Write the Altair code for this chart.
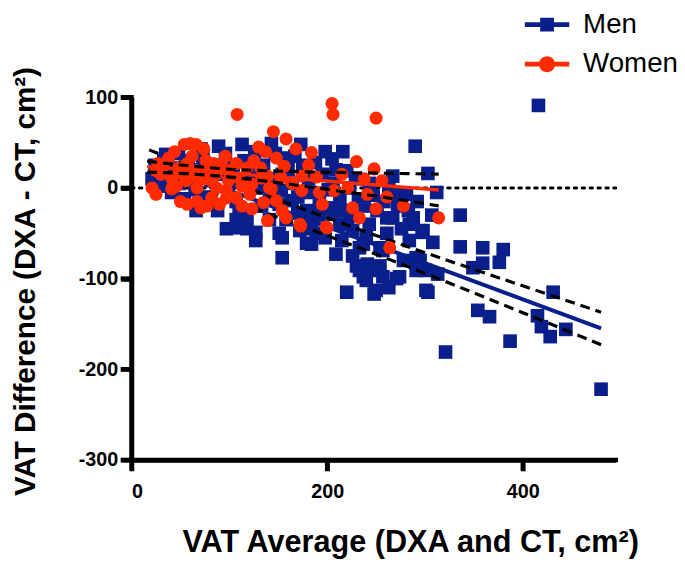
import altair as alt
import pandas as pd

# ---------------- data ----------------
men_x = [480, 416, 444, 428, 419, 415, 387, 354, 366, 431, 349, 359, 376, 336, 359, 380, 336, 321,
         297, 284, 301, 295, 303, 220, 248, 233, 240, 257, 271, 254, 241, 230, 209, 184, 215, 237, 226, 257, 284, 291, 267, 261, 243, 213, 206, 182, 189, 172,
         290, 216, 205, 173, 267, 303, 268, 281, 220, 223, 213, 205, 164, 179, 184, 288, 298, 261, 240, 254, 233, 250, 237, 250, 301, 154, 274, 291,
         97, 110, 127, 127, 154, 179, 66, 82, 110, 141, 151, 48, 71, 89, 113, 143, 156, 35, 154, 153, 151,
         21, 24, 30, 33, 38, 41, 46, 49, 54, 58, 62, 65, 70, 73, 76, 81, 84, 88, 92, 96, 99, 104, 107, 110, 115, 118, 122, 126, 130, 133, 135, 140, 145, 147,
         158, 160, 164, 167, 170, 175, 181, 183, 188, 192, 195, 198, 201, 206, 209, 215, 221, 224, 229, 232, 238, 243, 247, 251, 258, 263, 272, 276, 283, 292, 307, 312,
         308, 313, 278, 263, 226, 198, 192, 181, 170, 141, 118, 107]
men_y = [-222, 91, -156, -164, -153, -141, -169, -135, -142, -115, -88, -83, -82, -65, -66, -68, -30, -181,
         -49, -40, -91, -80, -115, -115, -117, -91, -102, -98, -100, -86, -84, -86, -73, -62, -58, -62, -47, -69, -58, -77, -33, -50, -40, -40, -29, -29, -50, -47,
         46, 40, 32, 48, 13, 16, -7, -7, 19, 0, -11, -22, -14, -25, -36, -33, -47, -33, -55, -66, -66, -91, -98, -113, -113, -77, -98, -91,
         -45, -44, -49, -58, -55, -61, -25, -18, -22, -3, -18, 38, 43, 46, 48, 49, 33, 37, 15, -3, -50,
         10, 25, 2, 30, 15, -5, 22, 5, -12, 30, 12, -2, 20, 35, -10, 8, 25, -25, 15, 38, -5, 25, -15, 8, 30, -30, 15, 40, 0, -20, 25, 10, -10, 38,
         -35, 20, 5, 35, -10, 25, 10, -5, 28, -15, 15, 40, -2, 5, 20, -25, -40, -30, 10, -12, -20, 5, -8, -25, -15, 0, -20, -45, -25, -15, -30, -5,
         -60, -95, -80, -110, -75, -55, -30, -45, -28, -35, -45, -35]

women_x = [108, 145, 158, 137, 54, 60, 74, 25, 21, 25, 41, 57, 71, 77, 97, 123, 135, 139, 158, 156, 82,
           195, 226, 233, 250, 200, 173, 264, 314,
           205, 206, 250, 168, 184, 230, 248, 256, 174, 189, 207, 174, 241, 172, 199, 154,
           38, 48, 57, 66, 76, 84, 87, 74, 67, 87, 99, 107, 99, 110, 118, 125, 132, 133, 143, 139, 148,
           30, 27, 41, 46, 56, 51, 64, 76, 92, 113, 97, 123, 107, 82, 141, 148, 121, 153, 66,
           44, 33, 62, 96, 130, 67, 50, 90, 113, 164, 181, 215, 192, 221, 238, 261, 278]
women_y = [81, 62, 54, 40, 48, 49, 43, 19, 0, -7, -1, -18, -22, -20, -11, -23, -16, -36, -33, 24, 8,
           -18, -22, -33, -23, -44, -42, -66, -33,
           93, 81, 77, 43, 39, 29, 21, 8, 13, 12, -3, -3, -7, -40, -43, -25,
           33, 22, 27, 19, 30, 27, 15, 10, 0, 0, 19, 27, 8, 11, 22, 30, 22, 11, -1, 13, 33,
           15, 27, 11, 2, 8, 16, 13, 19, 26, 2, -3, 4, -11, -11, 0, -14, -7, 11, 48,
           40, 25, 35, 35, 45, -15, -15, -18, -20, 5, 25, 15, -5, 0, 10, -10, -20]

# fitted lines and 95% bands
men_fit_x = [18, 480]
men_fit_y = [30, -155]
men_band_x = [18, 60, 120, 175, 240, 320, 400, 480]
men_band_upper = [42, 24, -0.8, -23, -48.6, -78.8, -108, -137]
men_band_lower = [18, 2.4, -20.8, -42.5, -69, -102.8, -137.6, -173]

women_fit_x = [16, 314]
women_fit_y = [23.5, -2.3]
women_band_x = [16, 56, 101, 147, 204, 261, 314]
women_band_upper = [29.5, 24.7, 20.6, 18.7, 17.2, 16.2, 15.2]
women_band_lower = [17.5, 15.7, 12, 6.1, -2.2, -10.8, -19.8]

zero_x = [0, 495]
zero_y = [0, 0]

x_domain = [0, 495]
y_domain = [-300, 100]
x_ticks = [0, 200, 400]
y_ticks = [-300, -200, -100, 0, 100]
legend_labels = ["Men", "Women"]

# ---------------- style ----------------
BLUE = "#0A1E8C"
RED = "#FF2A00"
FONT = "Liberation Sans"
AXW = 4.5

men_path = ("M-1,-0.11L1,-0.11L1,0.11L-1,0.11Z "
            "M-0.31,-0.31L0.31,-0.31L0.31,0.31L-0.31,0.31Z")
women_path = ("M-1,-0.11L1,-0.11L1,0.11L-1,0.11Z "
              "M-0.36,0A0.36,0.36 0 1,1 0.36,0A0.36,0.36 0 1,1 -0.36,0Z")

xs = alt.Scale(domain=x_domain, nice=False, zero=False)
ys = alt.Scale(domain=y_domain, nice=False, zero=False)

LABEL_EXPR = "datum.value < 0 ? '-' + abs(datum.value) : '' + datum.value"

x_axis = alt.Axis(values=x_ticks, title="VAT Average (DXA and CT, cm²)", grid=False,
                  domainColor="black", domainWidth=AXW, tickColor="black", tickWidth=AXW, tickSize=11,
                  labelFont=FONT, labelFontSize=20, labelFontWeight="bold", labelColor="black",
                  labelPadding=11, labelExpr=LABEL_EXPR,
                  titleFont=FONT, titleFontSize=31, titleFontWeight="bold",
                  titleColor="black", titleBaseline="alphabetic", titleAlign="center",
                  titleX=282, titleY=93)
y_axis = alt.Axis(values=y_ticks, title="VAT Difference (DXA - CT, cm²)", grid=False,
                  domainColor="black", domainWidth=AXW, tickColor="black", tickWidth=AXW, tickSize=11,
                  labelFont=FONT, labelFontSize=20, labelFontWeight="bold", labelColor="black",
                  labelPadding=3, labelExpr=LABEL_EXPR,
                  titleFont=FONT, titleFontSize=30, titleFontWeight="bold",
                  titleColor="black", titleAngle=-90, titleBaseline="alphabetic",
                  titleAlign="center", titleX=-98, titleY=186)

men_df = pd.DataFrame({"x": men_x, "y": men_y})
women_df = pd.DataFrame({"x": women_x, "y": women_y})
zero_df = pd.DataFrame({"x": zero_x, "y": zero_y})
men_fit_df = pd.DataFrame({"x": men_fit_x, "y": men_fit_y})
women_fit_df = pd.DataFrame({"x": women_fit_x, "y": women_fit_y})
men_band_df = pd.DataFrame({"x": men_band_x, "upper": men_band_upper, "lower": men_band_lower})
women_band_df = pd.DataFrame({"x": women_band_x, "upper": women_band_upper, "lower": women_band_lower})
legend_df = pd.DataFrame({"sex": legend_labels})
# axis frame segments along the scale domains, and tick positions
frame_df = pd.DataFrame({"x": [x_domain[0], x_domain[0]], "x2": [x_domain[0], x_domain[1]],
                         "y": [y_domain[1], y_domain[0]], "y2": [y_domain[0], y_domain[0]]})
xtick_df = pd.DataFrame({"x": x_ticks, "y": [y_domain[0]] * len(x_ticks)})
ytick_df = pd.DataFrame({"x": [x_domain[0]] * len(y_ticks), "y": y_ticks})

X = alt.X("x:Q", scale=xs, axis=x_axis)
Y = alt.Y("y:Q", scale=ys, axis=y_axis)

zero_line = alt.Chart(zero_df).mark_line(color="black", strokeWidth=3, strokeDash=[2.5, 5.5],
                                         strokeCap="round").encode(x=X, y=Y)

men_pts = alt.Chart(men_df).mark_square(size=190, color=BLUE, opacity=1, filled=True).encode(x=X, y=Y)
women_pts = alt.Chart(women_df).mark_circle(size=175, color=RED, opacity=1).encode(x=X, y=Y)


def band(df, col):
    return alt.Chart(df).mark_line(color="black", strokeWidth=3.2, strokeDash=[10, 6],
                                   interpolate="monotone").encode(
        x=X, y=alt.Y(f"{col}:Q", scale=ys, axis=y_axis))


men_fit = alt.Chart(men_fit_df).mark_line(color=BLUE, strokeWidth=4).encode(x=X, y=Y)
women_fit = alt.Chart(women_fit_df).mark_line(color=RED, strokeWidth=3.5).encode(x=X, y=Y)

frame = alt.Chart(frame_df).mark_rule(color="black", strokeWidth=AXW, strokeCap="square").encode(
    x=X, x2="x2:Q", y=Y, y2="y2:Q")
xticks = alt.Chart(xtick_df).mark_rule(color="black", strokeWidth=AXW, y2Offset=11).encode(
    x=X, y=Y, y2="y:Q")
yticks = alt.Chart(ytick_df).mark_rule(color="black", strokeWidth=AXW, x2Offset=-11).encode(
    x=X, x2="x:Q", y=Y)

leg = alt.Legend(title=None, orient="none", legendX=398, legendY=-96, padding=0,
                 labelFont=FONT, labelFontSize=28, labelColor="black", labelOffset=14,
                 symbolOpacity=1, symbolSize=2025, symbolStrokeWidth=0, rowPadding=3)
legend_layer = alt.Chart(legend_df).mark_point(filled=True, opacity=0, size=2025).encode(
    x=alt.value(0), y=alt.value(0),
    color=alt.Color("sex:N", scale=alt.Scale(domain=legend_labels, range=[BLUE, RED]), legend=leg),
    shape=alt.Shape("sex:N", scale=alt.Scale(domain=legend_labels, range=[men_path, women_path]),
                    legend=leg))

chart = alt.layer(
    frame, xticks, yticks,
    zero_line, men_pts, men_fit, band(men_band_df, "upper"), band(men_band_df, "lower"),
    women_pts, women_fit, band(women_band_df, "upper"), band(women_band_df, "lower"),
    legend_layer
).properties(
    width=490, height=367,
    background="white",
    autosize=alt.AutoSizeParams(type="none"),
    padding={"left": 125, "top": 87, "right": 62, "bottom": 104},
).configure_view(strokeWidth=0).configure_axis(
    domainWidth=AXW, tickWidth=AXW, domainColor="black", tickColor="black"
)

chart.save("out.html", embed_options={"renderer": "svg", "actions": False})
